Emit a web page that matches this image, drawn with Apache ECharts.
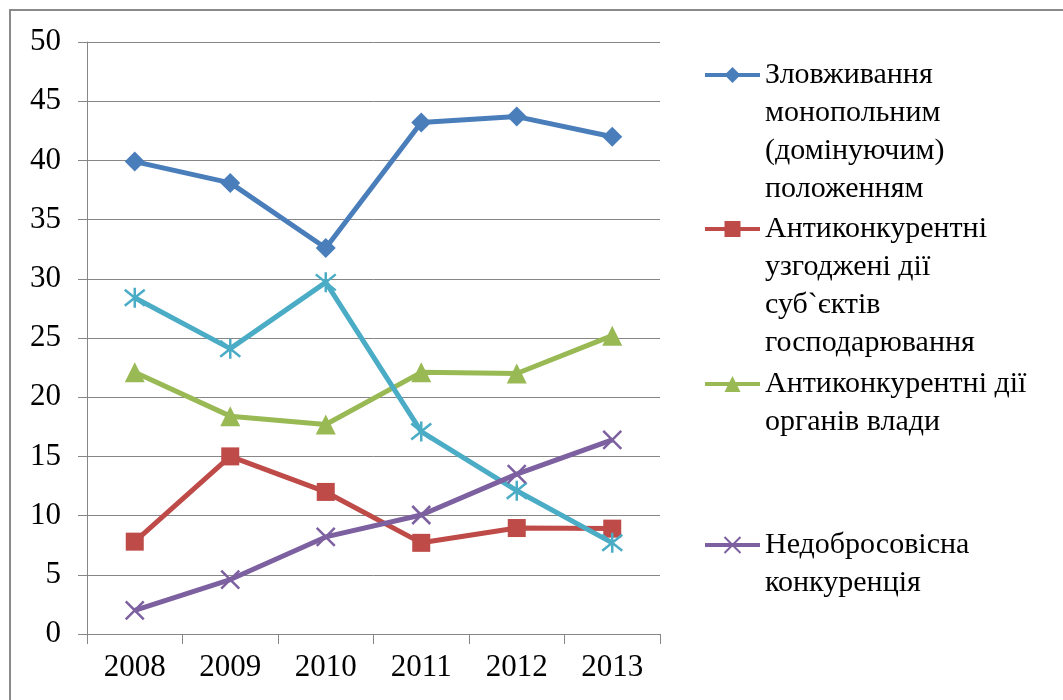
<!DOCTYPE html>
<html><head><meta charset="utf-8">
<script src="https://cdn.jsdelivr.net/npm/echarts@6/dist/echarts.min.js"></script>
<style>html,body{margin:0;padding:0;background:#fff}#c{width:1063px;height:700px}</style>
</head><body><div id="c"></div>
<script>
var years = ['2008','2009','2010','2011','2012','2013'];
var abuse = [39.9, 38.1, 32.6, 43.2, 43.7, 42.0];
var concerted = [7.8, 15.0, 12.0, 7.7, 8.95, 8.9];
var authorities = [22.1, 18.4, 17.7, 22.1, 22.0, 25.2];
var other = [28.4, 24.1, 29.7, 17.1, 12.1, 7.7];
var unfair = [2.0, 4.6, 8.2, 10.05, 13.5, 16.4];
var yTicks = [0, 50, 5];

var names = [
  'Зловживання\nмонопольним\n(домінуючим)\nположенням',
  'Антиконкурентні\nузгоджені дії\nсуб`єктів\nгосподарювання',
  'Антиконкурентні дії\nорганів влади',
  '',
  'Недобросовісна\nконкуренція'
];

var FONT = "'Liberation Serif', 'Times New Roman', serif";
var L = 38;
function legendFor(name, firstLineY) {
  var n = name.split('\n').length;
  return {
    show: true, orient: 'vertical', left: 703,
    top: firstLineY - (2 * n - 1) * L / 2,
    padding: 0, itemWidth: 55, itemHeight: 20, itemGap: 0,
    data: [name], selectedMode: false,
    lineStyle: { width: 4 },
    formatter: function (nm) { return new Array(n).join('\n') + nm; },
    textStyle: { fontFamily: FONT, fontSize: 30, color: '#000', lineHeight: L }
  };
}

var chart = echarts.init(document.getElementById('c'));
chart.setOption({
  animation: false,
  backgroundColor: '#fff',
  graphic: [{ type: 'rect', shape: { x: 10, y: 10, width: 1100, height: 720 },
              style: { fill: 'none', stroke: '#8a8a8a', lineWidth: 2 }, silent: true }],
  legend: [
    legendFor(names[0], 75),
    legendFor(names[1], 229),
    legendFor(names[2], 384),
    legendFor(names[4], 545)
  ],
  grid: { left: 87, right: 403, top: 42, bottom: 66 },
  xAxis: {
    type: 'category', data: years, boundaryGap: true,
    axisLine: { lineStyle: { color: '#868686', width: 1 } },
    axisTick: { show: true, length: 10, lineStyle: { color: '#868686' } },
    axisLabel: { fontFamily: FONT, fontSize: 31, color: '#000', margin: 18 }
  },
  yAxis: {
    type: 'value', min: yTicks[0], max: yTicks[1], interval: yTicks[2],
    axisLine: { show: true, lineStyle: { color: '#868686' } },
    axisTick: { show: true, length: 9, lineStyle: { color: '#868686' } },
    splitLine: { lineStyle: { color: '#868686', width: 1 } },
    axisLabel: { fontFamily: FONT, fontSize: 31, color: '#000', margin: 26 }
  },
  series: [
    { name: names[0], type: 'line', data: abuse, color: '#4a7ebb',
      symbol: 'diamond', symbolSize: 20, lineStyle: { width: 5 } },
    { name: names[1], type: 'line', data: concerted, color: '#be4b48',
      symbol: 'rect', symbolSize: 18, lineStyle: { width: 5 } },
    { name: names[2], type: 'line', data: authorities, color: '#98b954',
      symbol: 'triangle', symbolSize: 20, lineStyle: { width: 5 } },
    { name: 'other', type: 'line', data: other, color: '#4bacc6',
      symbol: 'path://M0,-1L0,1M-0.8,-0.8L0.8,0.8M-0.8,0.8L0.8,-0.8', symbolSize: 20,
      itemStyle: { borderColor: '#4bacc6', borderWidth: 2.5 }, lineStyle: { width: 5 } },
    { name: names[4], type: 'line', data: unfair, color: '#7d60a0',
      symbol: 'path://M-1,-1L1,1M-1,1L1,-1', symbolSize: 18,
      itemStyle: { borderColor: '#7d60a0', borderWidth: 2.5 }, lineStyle: { width: 5 } }
  ]
});
</script></body></html>
